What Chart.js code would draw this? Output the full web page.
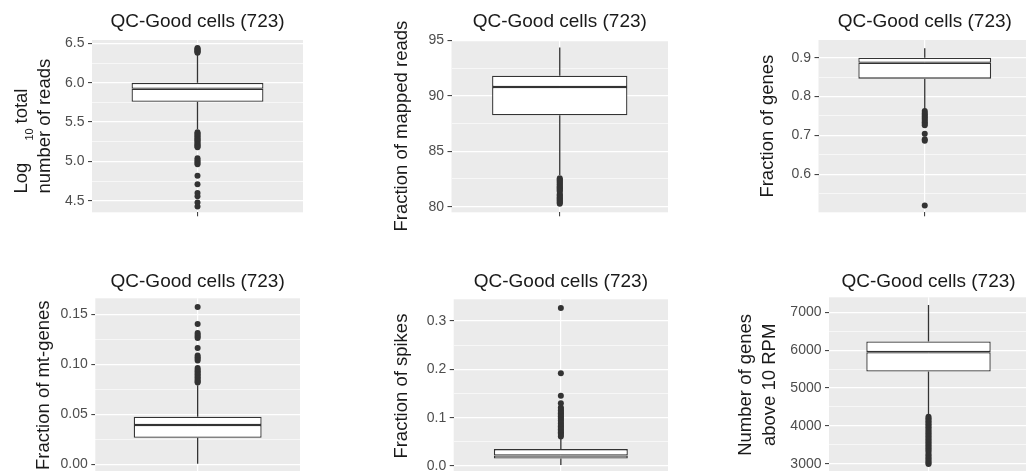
<!DOCTYPE html>
<html>
<head>
<meta charset="utf-8">
<script src="https://cdn.jsdelivr.net/npm/chart.js@4.4.1/dist/chart.umd.min.js"></script>
<style>
html, body { margin: 0; padding: 0; background: #ffffff; overflow: hidden; width: 1026px; height: 471px; }
canvas { position: absolute; }
</style>
</head>
<body>
<canvas id="c0"></canvas>
<canvas id="c1"></canvas>
<canvas id="c2"></canvas>
<canvas id="c3"></canvas>
<canvas id="c4"></canvas>
<canvas id="c5"></canvas>
<script>
// ---------------- DATA ----------------
const category = 'QC-Good cells (723)';
const panelTitles = ['QC-Good cells (723)', 'QC-Good cells (723)', 'QC-Good cells (723)',
                     'QC-Good cells (723)', 'QC-Good cells (723)', 'QC-Good cells (723)'];
const yTitles = [
  ['Log10 total', 'number of reads'],
  ['Fraction of mapped reads'],
  ['Fraction of genes'],
  ['Fraction of mt-genes'],
  ['Fraction of spikes'],
  ['Number of genes', 'above 10 RPM']
];
const readsTitleParts = ['Log', '10', 'total'];

// box statistics per panel: reads, mapped, genes, mt-genes, spikes, genes>10RPM
const q1          = [5.759, 88.24, 0.846, 0.0266, 0.0155, 5435];
const median      = [5.924, 90.79, 0.887, 0.0393, 0.0217, 5947];
const q3          = [5.998, 91.81, 0.900, 0.0476, 0.0350, 6227];
const whiskerLow  = [5.41,  82.85, 0.768, 0.0005, 0.002,  4280];
const whiskerHigh = [6.36,  94.35, 0.924, 0.079,  0.058,  7193];

const outliersReads = [6.44, 6.43, 6.42, 6.41, 6.40, 6.39, 6.38,
  5.37, 5.355, 5.34, 5.325, 5.31, 5.295, 5.28, 5.265, 5.25, 5.235, 5.22, 5.205, 5.19, 5.18,
  5.04, 5.02, 5.00, 4.98, 4.965, 4.82, 4.71, 4.60, 4.56, 4.48, 4.43];
const outliersMapped = [82.55, 82.45, 82.35, 82.25, 82.15, 82.05, 81.95, 81.85, 81.75, 81.65,
  81.55, 81.45, 81.35, 81.15, 81.05, 80.95, 80.85, 80.75, 80.65, 80.55, 80.45, 80.35, 80.25];
const outliersGenes = [0.763, 0.758, 0.754, 0.750, 0.746, 0.742, 0.738, 0.734, 0.730, 0.726,
  0.704, 0.690, 0.686, 0.520];
const outliersMt = [0.1573, 0.1403, 0.1313, 0.1295, 0.1278, 0.1263, 0.1163, 0.1088, 0.107, 0.1055,
  0.1038, 0.0963, 0.0945, 0.093, 0.0915, 0.09, 0.0885, 0.087, 0.0855, 0.084, 0.0825, 0.0818];
const outliersSpikes = [0.327, 0.192, 0.1455, 0.1297, 0.121, 0.118, 0.115, 0.112, 0.109, 0.106,
  0.103, 0.100, 0.097, 0.094, 0.091, 0.088, 0.085, 0.082, 0.079, 0.076, 0.073, 0.070, 0.067, 0.064, 0.061];
const outliersRpm = [4240, 4200, 4160, 4120, 4080, 4040, 4000, 3960, 3920, 3880, 3840, 3800, 3760,
  3720, 3680, 3640, 3600, 3560, 3520, 3480, 3440, 3400, 3360, 3320, 3260, 3220, 3180, 3140,
  3100, 3060, 3020, 2990];
const outliers = [outliersReads, outliersMapped, outliersGenes, outliersMt, outliersSpikes, outliersRpm];

const tickLabelsReads  = ['4.5', '5.0', '5.5', '6.0', '6.5'];
const tickLabelsMapped = ['80', '85', '90', '95'];
const tickLabelsGenes  = ['0.6', '0.7', '0.8', '0.9'];
const tickLabelsMt     = ['0.00', '0.05', '0.10', '0.15'];
const tickLabelsSpikes = ['0.0', '0.1', '0.2', '0.3'];
const tickLabelsRpm    = ['3000', '4000', '5000', '6000', '7000'];
const tickLabels = [tickLabelsReads, tickLabelsMapped, tickLabelsGenes, tickLabelsMt, tickLabelsSpikes, tickLabelsRpm];

// ---------------- LAYOUT / STYLE ----------------
const FAMILY = '"Liberation Sans", Arial, Helvetica, sans-serif';
const frames = [
  {left: 0,   top: 0,   width: 306, height: 245, axisW: 92,   axisH: 32.7, tPadTop: 10,  tPadBot: 7.2, yPad: 0,    ymin: 4.355,   ymax: 6.542},
  {left: 380, top: 0,   width: 291, height: 245, axisW: 71.5, axisH: 32.7, tPadTop: 10,  tPadBot: 7.2, yPad: 10.1, ymin: 79.49,   ymax: 95.03},
  {left: 740, top: 0,   width: 294, height: 245, axisW: 78.5, axisH: 32.7, tPadTop: 10,  tPadBot: 7.2, yPad: 16.1, ymin: 0.5022,  ymax: 0.9455},
  {left: 0,   top: 260, width: 303, height: 225, axisW: 95.3, axisH: 12.8, tPadTop: 9.9, tPadBot: 5.6, yPad: 31.8, ymin: -0.0079, ymax: 0.166},
  {left: 380, top: 260, width: 291, height: 226, axisW: 73.7, axisH: 13.1, tPadTop: 9.9, tPadBot: 6.6, yPad: 10.1, ymin: -0.0143, ymax: 0.345},
  {left: 720, top: 260, width: 311, height: 225, axisW: 109,  axisH: 12.6, tPadTop: 9.9, tPadBot: 4.6, yPad: 14.4, ymin: 2770,    ymax: 7396}
];
const INK = '#333333';
const TEXT = '#1a1a1a';

Chart.defaults.font.family = FAMILY;
Chart.defaults.animation = false;

const panelBg = {
  id: 'panelBg',
  beforeDraw(chart) {
    const {ctx, chartArea: a} = chart;
    ctx.save();
    ctx.fillStyle = '#ebebeb';
    ctx.fillRect(a.left, a.top, a.right - a.left, a.bottom - a.top);
    ctx.restore();
  }
};

const readsTitle = {
  id: 'readsTitle',
  afterDraw(chart) {
    const {ctx, chartArea: a} = chart;
    const big = '18.5px ' + FAMILY;
    const small = '11px ' + FAMILY;
    ctx.save();
    ctx.fillStyle = TEXT;
    ctx.font = big;
    const line2 = yTitles[0][1];
    const start = (a.top + a.bottom) / 2 + ctx.measureText(line2).width / 2;
    ctx.textBaseline = 'alphabetic';
    ctx.textAlign = 'left';
    // second line
    ctx.save();
    ctx.translate(50, start);
    ctx.rotate(-Math.PI / 2);
    ctx.fillText(line2, 0, 0);
    ctx.restore();
    // first line with subscript
    ctx.save();
    ctx.translate(26.5, start);
    ctx.rotate(-Math.PI / 2);
    ctx.font = big;
    ctx.fillText(readsTitleParts[0], 0, 0);
    ctx.font = small;
    ctx.fillText(readsTitleParts[1], 53, 6.5);
    ctx.font = big;
    ctx.fillText(readsTitleParts[2], 70, 0);
    ctx.restore();
    ctx.restore();
  }
};

function buildTicks(labels, min, max) {
  const vals = labels.map(parseFloat);
  const step = vals[1] - vals[0];
  const out = vals.map((v, i) => ({value: v, label: labels[i], minor: false}));
  [vals[0] - step / 2].concat(vals.map(v => v + step / 2)).forEach(v => {
    if (v >= min && v <= max) out.push({value: v, label: '', minor: true});
  });
  out.sort((a, b) => a.value - b.value);
  return out;
}

frames.forEach((f, i) => {
  const canvas = document.getElementById('c' + i);
  canvas.width = f.width;
  canvas.height = f.height;
  canvas.style.left = f.left + 'px';
  canvas.style.top = f.top + 'px';
  canvas.style.width = f.width + 'px';
  canvas.style.height = f.height + 'px';

  const ticks = buildTicks(tickLabels[i], f.ymin, f.ymax);
  const pt = v => ({x: category, y: v});
  const boxStyle = {
    type: 'bar', backgroundColor: '#ffffff', borderColor: INK, borderWidth: 1.3,
    borderSkipped: false, grouped: false, barPercentage: 0.625, categoryPercentage: 1
  };
  const whiskerStyle = {type: 'line', borderColor: INK, borderWidth: 1.3, pointRadius: 0, fill: false};

  const plugins = [panelBg];
  if (i === 0) plugins.push(readsTitle);

  new Chart(canvas, {
    type: 'bar',
    data: {
      labels: [category],
      datasets: [
        {type: 'line', data: outliers[i].map(pt), showLine: false, pointRadius: 3,
         pointBackgroundColor: INK, pointBorderColor: INK, pointBorderWidth: 0, pointHoverRadius: 0},
        Object.assign({data: [[q1[i], median[i]]]}, boxStyle),
        Object.assign({data: [[median[i], q3[i]]]}, boxStyle),
        Object.assign({data: [pt(q3[i]), pt(whiskerHigh[i])]}, whiskerStyle),
        Object.assign({data: [pt(q1[i]), pt(whiskerLow[i])]}, whiskerStyle)
      ]
    },
    options: {
      responsive: false,
      maintainAspectRatio: false,
      devicePixelRatio: 1,
      animation: false,
      events: [],
      layout: {padding: 0},
      plugins: {
        legend: {display: false},
        tooltip: {enabled: false},
        title: {
          display: true, text: panelTitles[i], fullSize: false, color: TEXT,
          font: {size: 19, lineHeight: 1.2, weight: 'normal', family: FAMILY},
          padding: {top: f.tPadTop, bottom: f.tPadBot}
        }
      },
      scales: {
        x: {
          type: 'category', offset: true,
          grid: {offset: false, color: '#ffffff', lineWidth: 1.2, tickColor: INK, tickLength: 4, tickWidth: 1},
          border: {display: false},
          ticks: {callback: () => '', padding: 0},
          afterFit: s => { s.height = f.axisH; }
        },
        y: {
          type: 'linear', min: f.ymin, max: f.ymax, beginAtZero: false,
          afterBuildTicks: s => { s.ticks = ticks.map(t => Object.assign({}, t)); },
          afterFit: s => { s.width = f.axisW; },
          grid: {
            color: '#ffffff',
            lineWidth: c => (c.tick && c.tick.minor ? 0.6 : 1.2),
            tickColor: c => (c.tick && c.tick.minor ? 'rgba(0,0,0,0)' : INK),
            tickWidth: 1, tickLength: 4, drawTicks: true
          },
          border: {display: false},
          ticks: {
            autoSkip: false, padding: 3.5, color: '#4d4d4d',
            font: {size: 14, family: FAMILY},
            callback: (v, idx, arr) => arr[idx].label
          },
          title: {
            display: i !== 0,
            text: yTitles[i],
            color: TEXT,
            font: {size: 18.5, lineHeight: 1.265, family: FAMILY},
            padding: {top: f.yPad, bottom: 0}
          }
        }
      }
    },
    plugins: plugins
  });
});
</script>
</body>
</html>
